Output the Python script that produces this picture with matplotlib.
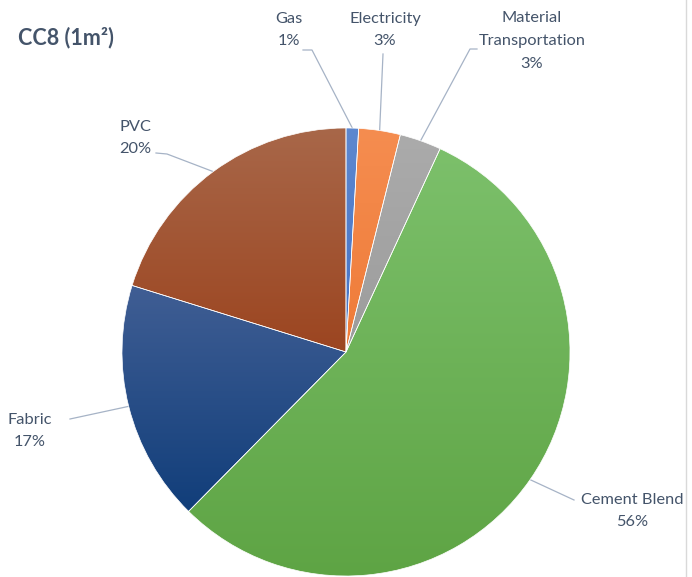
import numpy as np
import matplotlib
matplotlib.use("Agg")
import matplotlib.pyplot as plt
from matplotlib.colors import LinearSegmentedColormap

plt.rcParams['font.family'] = ['Lato', 'DejaVu Sans']

# data
labels = ["Gas", "Electricity", "Material\nTransportation", "Cement Blend", "Fabric", "PVC"]
values = [0.9, 3.0, 3.0, 55.5, 17.4, 20.2]
pct_text = ["1%", "3%", "3%", "56%", "17%", "20%"]
# gradient (top, bottom) per slice
grad = [("#5E88CF", "#4472C4"), ("#F58D50", "#EF7B38"), ("#ABABAB", "#9C9C9C"),
        ("#7CC06B", "#5EA444"), ("#405E94", "#113E7A"), ("#A86749", "#9C4520")]

W, H = 692, 577
fig = plt.figure(figsize=(W / 100, H / 100), dpi=100)
ax = fig.add_axes([0, 0, 1, 1])
ax.axis('off')

cx, cy, r = 346, H - 352, 224
wedges, _ = ax.pie(values, startangle=90, counterclock=False, center=(cx, cy), radius=r,
                   colors=[g[1] for g in grad], wedgeprops=dict(edgecolor='white', linewidth=0.5))
ax.set_aspect('auto')

for w, (top, bot) in zip(wedges, grad):
    verts = w.get_path().vertices
    x0, x1 = verts[:, 0].min(), verts[:, 0].max()
    y0, y1 = verts[:, 1].min(), verts[:, 1].max()
    cmap = LinearSegmentedColormap.from_list('g', [bot, top])
    img = ax.imshow(np.linspace(0, 1, 256).reshape(-1, 1), cmap=cmap, origin='lower',
                    extent=(x0, x1, y0, y1), aspect='auto', zorder=w.get_zorder() + 0.1)
    img.set_clip_path(w)
    w.set_facecolor('none')
    w.set_zorder(w.get_zorder() + 0.2)

ax.set_xlim(0, W)
ax.set_ylim(0, H)

# label layout in pixels: text centre, leader (hook end, elbow)
txt_pos = [(289, 30), (385, 30), (532, 41), (632, 511), (30, 431), (135, 138)]
lead_hook = [(303, 50), None, (477, 49), None, None, (156, 153)]
lead_elbow = [(312, 50), (383, 54), (470, 49), (574, 500), (70, 419), (167, 154)]

tc = "#44546A"
lc = "#A6B3C6"
cum = 0
for i, v in enumerate(values):
    mid = cum + v / 2
    cum += v
    ang = np.deg2rad(90 - 360 * mid / 100)
    px, py = cx + r * np.cos(ang), cy + r * np.sin(ang)
    tx, ty = txt_pos[i]
    ax.text(tx, H - ty, labels[i] + "\n" + pct_text[i], ha='center', va='center',
            fontsize=11.8, color=tc, linespacing=1.78)
    ex, ey = lead_elbow[i]
    xs, ys = [ex, px], [H - ey, py]
    if lead_hook[i] is not None:
        xs = [lead_hook[i][0]] + xs
        ys = [H - lead_hook[i][1]] + ys
    ax.plot(xs, ys, color=lc, lw=0.9, zorder=1)

ax.text(18, H - 38, "CC8 (1m²)", ha='left', va='center', fontsize=15.5,
        fontweight='bold', color=tc)

ax.plot([686, 686], [0, H], color="#D9D9D9", lw=1)

fig.savefig("out.png", dpi=100)
